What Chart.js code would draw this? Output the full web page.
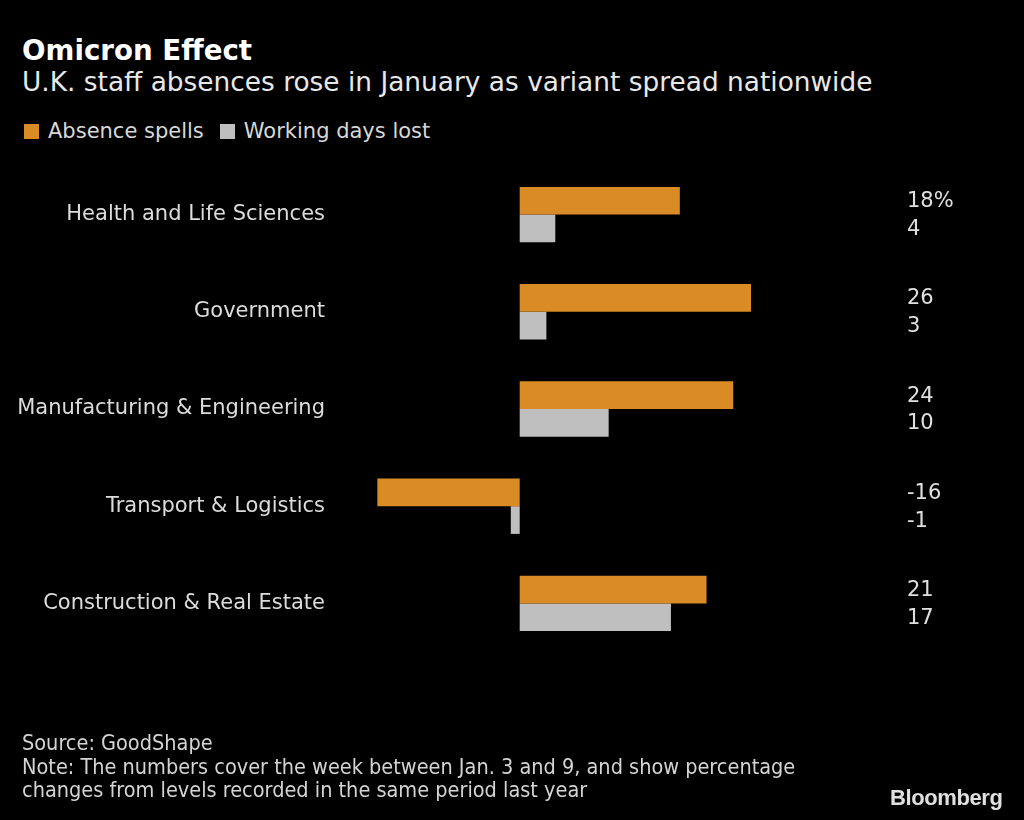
<!DOCTYPE html>
<html>
<head>
<meta charset="utf-8">
<script src="https://cdn.jsdelivr.net/npm/chart.js@4"></script>
<style>
  body { margin: 0; background: #000; width: 1024px; height: 820px; overflow: hidden; position: relative; font-family: "DejaVu Sans", sans-serif; color: #e6e6e6; }
  #title { position: absolute; left: 22px; top: 34px; font-size: 27.7px; font-weight: bold; color: #fff; }
  #subtitle { position: absolute; left: 22px; top: 66px; font-size: 26.4px; color: #e8e8e8; }
  #legend { position: absolute; left: 24px; top: 119px; font-size: 21px; color: #d8d8d8; }
  #legend span.sw { display: inline-block; width: 15px; height: 15px; margin-right: 9px; vertical-align: -1px; }
  #legend span.item { margin-right: 16px; }
  #foot { position: absolute; left: 22px; top: 731px; font-family: "DejaVu Sans Condensed", "DejaVu Sans", sans-serif; font-stretch: condensed; font-size: 21.5px; line-height: 23.5px; color: #d4d4d4; }
  #logo { position: absolute; left: 890px; top: 785px; font-family: "Liberation Sans Narrow", "Liberation Sans", sans-serif; font-stretch: condensed; font-weight: bold; font-size: 22px; color: #e0e0e0; letter-spacing: -0.4px; }
  #wrap { position: absolute; left: 0; top: 0; width: 1024px; height: 820px; }
</style>
</head>
<body>
<div id="title">Omicron Effect</div>
<div id="subtitle">U.K. staff absences rose in January as variant spread nationwide</div>
<div id="legend"></div>
<div id="wrap"><canvas id="absenceChart"></canvas></div>
<div id="foot">Source: GoodShape<br>Note: The numbers cover the week between Jan. 3 and 9, and show percentage<br>changes from levels recorded in the same period last year</div>
<div id="logo">Bloomberg</div>
<script>
var categories = ["Health and Life Sciences", "Government", "Manufacturing & Engineering", "Transport & Logistics", "Construction & Real Estate"];
var absenceSpells = [18, 26, 24, -16, 21];
var workingDaysLost = [4, 3, 10, -1, 17];
var seriesNames = ["Absence spells", "Working days lost"];
var seriesColors = ["#D98B26", "#BFBFBF"];

// legend in html, same colours as the bars
var legendHtml = "";
seriesNames.forEach(function (name, i) {
    legendHtml += '<span class="item"><span class="sw" style="background:' + seriesColors[i] + '"></span>' + name + '</span>';
});
document.getElementById("legend").innerHTML = legendHtml;

// value labels on the right side of the plot
var valueLabels = {
    id: "valueLabels",
    afterDatasetsDraw: function (chart) {
        var ctx = chart.ctx;
        ctx.save();
        ctx.font = "21px 'DejaVu Sans'";
        ctx.fillStyle = "#e0e0e0";
        ctx.textAlign = "left";
        ctx.textBaseline = "middle";
        chart.data.datasets.forEach(function (ds, d) {
            chart.getDatasetMeta(d).data.forEach(function (bar, i) {
                var txt = String(ds.data[i]);
                if (d === 0 && i === 0) txt += "%";
                ctx.fillText(txt, chart.chartArea.right + 27, bar.y + 1);
            });
        });
        ctx.restore();
    }
};

var ctx = document.getElementById("absenceChart");
var myChart = new Chart(ctx, {
    type: "bar",
    data: {
        labels: categories,
        datasets: [
            { label: seriesNames[0], data: absenceSpells, backgroundColor: seriesColors[0] },
            { label: seriesNames[1], data: workingDaysLost, backgroundColor: seriesColors[1] }
        ]
    },
    options: {
        indexAxis: "y",
        responsive: true,
        maintainAspectRatio: false,
        animation: false,
        categoryPercentage: 0.57,
        barPercentage: 1,
        layout: { padding: { top: 166, bottom: 168, left: 0, right: 144 } },
        plugins: { legend: { display: false }, tooltip: { enabled: false } },
        scales: {
            x: { display: false, min: -20.2, max: 40.5 },
            y: {
                grid: { display: false, drawTicks: false },
                border: { display: false },
                ticks: { color: "#dcdcdc", font: { family: "DejaVu Sans", size: 21 }, padding: 15 },
                afterFit: function (scale) { scale.width = 340; }
            }
        }
    },
    plugins: [valueLabels]
});
</script>
</body>
</html>
